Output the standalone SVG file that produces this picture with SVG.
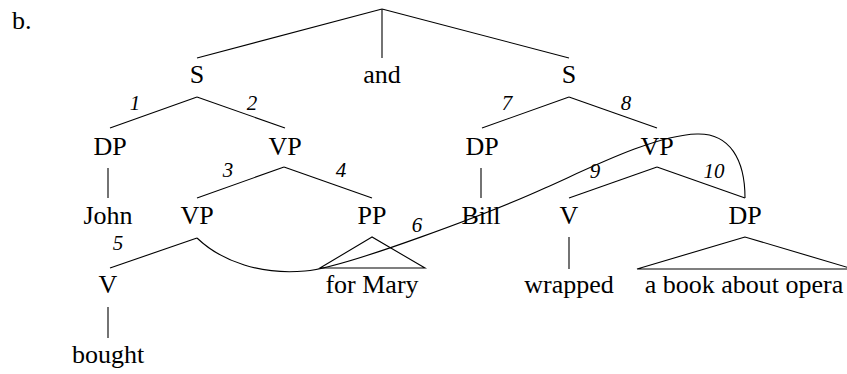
<svg xmlns="http://www.w3.org/2000/svg" width="847" height="374" viewBox="0 0 847 374">
<style>
text{font-family:'Liberation Serif','Times New Roman',serif;font-size:26px;fill:#000;text-anchor:middle}
.n{font-style:italic;font-size:21px}
.e line,.e path,.e polygon{stroke:#000;stroke-width:1.1;fill:none}
</style>
<rect width="847" height="374" fill="#fff"/>
<text x="12" y="29" style="text-anchor:start">b.</text>
<g class="e" id="connectors">
<line x1="382" y1="9" x2="197" y2="58"/>
<line x1="382" y1="9" x2="382" y2="58"/>
<line x1="382" y1="9" x2="569" y2="58"/>
<line x1="197" y1="97" x2="110" y2="128"/>
<line x1="197" y1="97" x2="285" y2="128"/>
<line x1="108" y1="168" x2="108" y2="198"/>
<line x1="284" y1="167" x2="197" y2="198"/>
<line x1="284" y1="167" x2="372" y2="198"/>
<line x1="197" y1="238" x2="110" y2="268"/>
<line x1="108" y1="307" x2="108" y2="338"/>
<polygon points="372,237 320,268 425,268"/>
<line x1="569" y1="97" x2="482" y2="128"/>
<line x1="569" y1="97" x2="657" y2="128"/>
<line x1="481" y1="168" x2="481" y2="198"/>
<line x1="657" y1="167" x2="569" y2="198"/>
<line x1="657" y1="167" x2="745" y2="198"/>
<line x1="569" y1="237" x2="569" y2="269"/>
<polygon points="745,237 637,269 853,269"/>
<path d="M197,238 C222,262 262,275 305,271 C345,268 497,210 545,188 C590,168 655,135 697,134 C730,133 745,160 745,198"/>
</g>
<g id="s1"><text x="197" y="83">S</text></g>
<g id="and"><text x="382" y="83">and</text></g>
<g id="s2"><text x="569" y="83">S</text></g>
<g id="dp1"><text x="110" y="155">DP</text></g>
<g id="vp1"><text x="285" y="155">VP</text></g>
<g id="john"><text x="108" y="224">John</text></g>
<g id="vp2"><text x="197" y="224">VP</text></g>
<g id="pp"><text x="372" y="224">PP</text></g>
<g id="v1"><text x="108" y="293">V</text></g>
<g id="bought"><text x="108" y="363">bought</text></g>
<g id="formary"><text x="372" y="293">for Mary</text></g>
<g id="dp2"><text x="482" y="155">DP</text></g>
<g id="vp3"><text x="657" y="155">VP</text></g>
<g id="bill"><text x="481" y="224">Bill</text></g>
<g id="v2"><text x="569" y="224">V</text></g>
<g id="dp3"><text x="745" y="224">DP</text></g>
<g id="wrapped"><text x="569" y="293">wrapped</text></g>
<g id="book"><text x="744" y="293">a book about opera</text></g>
<g id="labels">
<text class="n" x="135" y="110">1</text>
<text class="n" x="252" y="110">2</text>
<text class="n" x="228" y="177">3</text>
<text class="n" x="341" y="177">4</text>
<text class="n" x="118" y="250">5</text>
<text class="n" x="417" y="232">6</text>
<text class="n" x="507" y="110">7</text>
<text class="n" x="626" y="110">8</text>
<text class="n" x="595" y="178">9</text>
<text class="n" x="714" y="178">10</text>
</g>
</svg>
